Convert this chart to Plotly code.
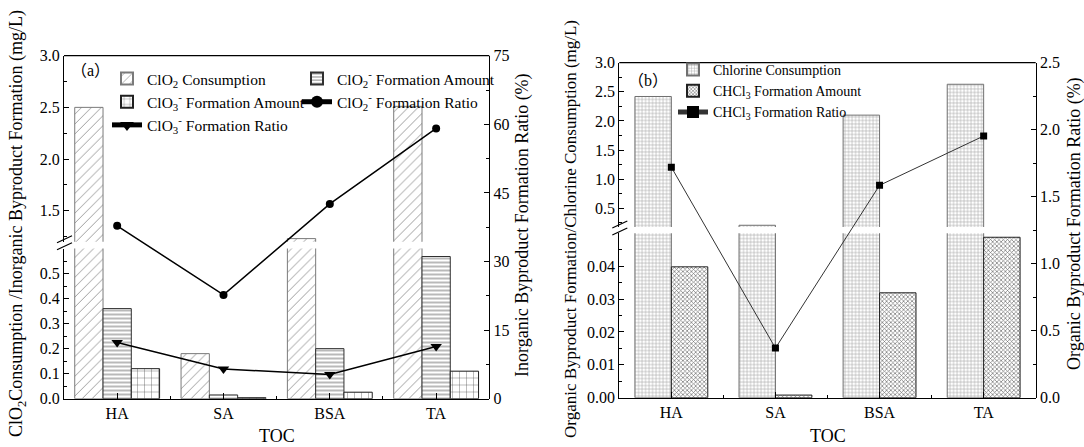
import plotly.graph_objects as go

# ---------------- data ----------------
cats = ["HA", "SA", "BSA", "TA"]

# panel (a)  (mg/L on left, % on right)
clo2_consumption = [2.50, 0.18, 1.23, 2.51]
clo2m_amount = [0.36, 0.015, 0.20, 0.568]
clo3m_amount = [0.12, 0.004, 0.026, 0.11]
clo2m_ratio = [37.8, 22.7, 42.6, 59.1]
clo3m_ratio = [12.3, 6.5, 5.3, 11.4]

# panel (b)
chlorine_consumption = [2.42, 0.21, 2.10, 2.63]
chcl3_amount = [0.0398, 0.0008, 0.0319, 0.0488]
chcl3_ratio = [1.72, 0.37, 1.585, 1.953]

# tick labels
a_low_ticks = [0.0, 0.1, 0.2, 0.3, 0.4, 0.5]
a_up_ticks = [1.5, 2.0, 2.5, 3.0]
a_right_ticks = [0, 15, 30, 45, 60, 75]
b_low_ticks = [0.00, 0.01, 0.02, 0.03, 0.04]
b_up_ticks = [0.5, 1.0, 1.5, 2.0, 2.5, 3.0]
b_right_ticks = [0.0, 0.5, 1.0, 1.5, 2.0, 2.5]

# ---------------- layout helpers ----------------
W, H = 1084, 447
FONT = "Liberation Serif"


def px(x):
    return x / W


def py(y):
    return 1 - y / H


xi = list(range(len(cats)))

fig = go.Figure()

# ---------- panel (a) bars ----------
bar_w_a = 0.266
a_bars = [
    ("ClO<sub>2</sub> Consumption", clo2_consumption,
     dict(shape="/", fgcolor="#8c8c8c", bgcolor="white", size=7, solidity=0.12),
     "#7a7a7a", -1.5 * bar_w_a, "legend"),
    ("ClO<sub>2</sub><sup>-</sup> Formation Amount", clo2m_amount,
     dict(shape="-", fgcolor="#8a8a8a", bgcolor="white", size=4, solidity=0.3),
     "#303030", -0.5 * bar_w_a, "legend3"),
    ("ClO<sub>3</sub><sup>-</sup> Formation Amount", clo3m_amount,
     dict(shape="+", fgcolor="#404040", bgcolor="white", size=7, solidity=0.1),
     "#202020", 0.5 * bar_w_a, "legend"),
]
for yax, show in (("y", True), ("y2", False)):
    for name, vals, pat, lc, off, lg in a_bars:
        fig.add_trace(go.Bar(
            x=xi, y=vals, name=name, xaxis="x", yaxis=yax,
            width=bar_w_a, offset=off,
            marker=dict(color="white", pattern=dict(fillmode="replace", **pat),
                        line=dict(color=lc, width=1)),
            showlegend=show, legend=lg, hoverinfo="skip"))

fig.add_trace(go.Scatter(
    x=xi, y=clo2m_ratio, name="ClO<sub>2</sub><sup>-</sup> Formation Ratio",
    xaxis="x", yaxis="y3", mode="lines+markers", legend="legend3",
    line=dict(color="black", width=1.5),
    marker=dict(symbol="circle", size=8, color="black")))
fig.add_trace(go.Scatter(
    x=xi, y=clo3m_ratio, name="ClO<sub>3</sub><sup>-</sup> Formation Ratio",
    xaxis="x", yaxis="y3", mode="lines+markers", legend="legend",
    line=dict(color="black", width=1.5),
    marker=dict(symbol="triangle-down", size=10, color="black")))

# ---------- panel (b) bars ----------
bar_w_b = 0.35
b_bars = [
    ("Chlorine Consumption", chlorine_consumption,
     dict(shape="+", fgcolor="#a8a8a8", bgcolor="white", size=3.5, solidity=0.3),
     "#707070", -bar_w_b),
    ("CHCl<sub>3</sub> Formation Amount", chcl3_amount,
     dict(shape="x", fgcolor="#707070", bgcolor="white", size=3, solidity=0.4),
     "#202020", 0.0),
]
for yax, show in (("y4", True), ("y5", False)):
    for name, vals, pat, lc, off in b_bars:
        fig.add_trace(go.Bar(
            x=xi, y=vals, name=name, xaxis="x2", yaxis=yax,
            width=bar_w_b, offset=off,
            marker=dict(color="white", pattern=dict(fillmode="replace", **pat),
                        line=dict(color=lc, width=1)),
            showlegend=show, legend="legend2", hoverinfo="skip"))

fig.add_trace(go.Scatter(
    x=xi, y=chcl3_ratio, name="CHCl<sub>3</sub> Formation Ratio",
    xaxis="x2", yaxis="y6", mode="lines+markers", legend="legend2",
    line=dict(color="#333333", width=1),
    marker=dict(symbol="square", size=7, color="black")))

# ---------- axes ----------
tickfont = dict(family=FONT, size=16, color="black")
common_y = dict(showgrid=False, zeroline=False, showline=True, linecolor="black",
                linewidth=1.2, ticks="inside", ticklen=5, tickcolor="black",
                tickfont=tickfont, automargin=False)
common_x = dict(showgrid=False, zeroline=False, showline=True, linecolor="black",
                linewidth=1.2, ticks="inside", ticklen=6, tickcolor="black",
                tickfont=tickfont, automargin=False, range=[-0.5, 3.5],
                tickmode="array", tickvals=xi, ticktext=cats,
                minor=dict(ticks="inside", ticklen=3, tickcolor="black",
                           tickmode="linear", tick0=0.5, dtick=1))

# panel (a) pixel geometry
A_L, A_R = 64, 489.3
A_TOP, A_UPB, A_LOWT, A_BOT = 55.7, 241.7, 248.5, 398.7
# panel (b) pixel geometry
B_L, B_R = 619.3, 1035.7
B_TOP, B_UPB, B_LOWT, B_BOT = 62.7, 227.0, 233.3, 397.7

fig.update_layout(
    xaxis=dict(domain=[px(A_L), px(A_R)], anchor="y", **common_x),
    yaxis=dict(domain=[py(A_BOT), py(A_LOWT)], anchor="x", range=[0, 0.6],
               tickmode="array", tickvals=a_low_ticks, tickformat=".1f",
               minor=dict(ticks="inside", ticklen=3, tickcolor="black",
                          tickmode="linear", tick0=0.05, dtick=0.1),
               **common_y),
    yaxis2=dict(domain=[py(A_UPB), py(A_TOP)], anchor="x", range=[1.2, 3.0],
                tickmode="array", tickvals=a_up_ticks, tickformat=".1f",
                minor=dict(ticks="inside", ticklen=3, tickcolor="black",
                           tickmode="linear", tick0=0.25, dtick=0.5),
                **common_y),
    yaxis3=dict(domain=[py(A_BOT), py(A_TOP)], anchor="x", side="right",
                range=[0, 75], tickmode="array", tickvals=a_right_ticks,
                minor=dict(ticks="inside", ticklen=3, tickcolor="black",
                           tickmode="linear", tick0=7.5, dtick=15),
                **common_y),
    xaxis2=dict(domain=[px(B_L), px(B_R)], anchor="y4", **common_x),
    yaxis4=dict(domain=[py(B_BOT), py(B_LOWT)], anchor="x2", range=[0, 0.05],
                tickmode="array", tickvals=b_low_ticks, tickformat=".2f",
                minor=dict(ticks="inside", ticklen=3, tickcolor="black",
                           tickmode="linear", tick0=0.005, dtick=0.01),
                **common_y),
    yaxis5=dict(domain=[py(B_UPB), py(B_TOP)], anchor="x2", range=[0.18, 3.0],
                tickmode="array", tickvals=b_up_ticks, tickformat=".1f",
                minor=dict(ticks="inside", ticklen=3, tickcolor="black",
                           tickmode="linear", tick0=0.25, dtick=0.5),
                **common_y),
    yaxis6=dict(domain=[py(B_BOT), py(B_TOP)], anchor="x2", side="right",
                range=[0, 2.5], tickmode="array", tickvals=b_right_ticks,
                tickformat=".1f",
                minor=dict(ticks="inside", ticklen=3, tickcolor="black",
                           tickmode="linear", tick0=0.25, dtick=0.5),
                **common_y),
)

# ---------- frame lines & axis breaks ----------
shapes = []
for xr, yr in (("x domain", "y2 domain"), ("x2 domain", "y5 domain")):
    shapes.append(dict(type="line", xref=xr, yref=yr, x0=0, x1=1, y0=1, y1=1,
                       line=dict(color="black", width=1.2)))
    for y0, y1 in ((-1, 6), (-8, -1)):
        shapes.append(dict(type="line", xref=xr, yref=yr,
                           xsizemode="pixel", xanchor=0, x0=-7, x1=8,
                           ysizemode="pixel", yanchor=0,
                           y0=y0, y1=y1, line=dict(color="black", width=1.2)))

# ---------- annotations (titles, panel labels) ----------
tfont = dict(family=FONT, size=18, color="black")
ann = [
    dict(text="ClO<sub>2</sub>Consumption /Inorganic Byproduct Formation (mg/L)",
         x=px(17), y=py(224), textangle=-90),
    dict(text="Inorganic Byproduct Formation Ratio (%)",
         x=px(522), y=py(225), textangle=-90),
    dict(text="Organic Byproduct Formation/Chlorine Consumption (mg/L)",
         x=px(571), y=py(229), textangle=-90,
         font=dict(family=FONT, size=17, color="black")),
    dict(text="Organic Byproduct Formation Ratio (%)",
         x=px(1074), y=py(224), textangle=-90),
    dict(text="TOC", x=px(277), y=py(436)),
    dict(text="TOC", x=px(828), y=py(436)),
    dict(text="（a）", x=px(90), y=py(70),
         font=dict(family=FONT + ", Noto Sans CJK SC", size=16, color="black")),
    dict(text="（b）", x=px(648), y=py(80),
         font=dict(family=FONT + ", Noto Sans CJK SC", size=16, color="black")),
]
annotations = []
for a in ann:
    d = dict(xref="paper", yref="paper", showarrow=False, font=tfont,
             xanchor="center", yanchor="middle")
    d.update(a)
    annotations.append(d)

leg_common = dict(bgcolor="rgba(0,0,0,0)", borderwidth=0,
                  orientation="v", xanchor="left", yanchor="top",
                  tracegroupgap=0, itemsizing="constant")
legfont_a = dict(family=FONT, size=15.5, color="black")
legfont_b = dict(family=FONT, size=14, color="black")

fig.update_layout(
    width=W, height=H,
    margin=dict(l=0, r=0, t=0, b=0),
    paper_bgcolor="white", plot_bgcolor="rgba(0,0,0,0)",
    font=dict(family=FONT, color="black"),
    barmode="overlay",
    shapes=shapes,
    annotations=annotations,
    legend=dict(x=px(107), y=py(62), font=legfont_a, **leg_common),
    legend3=dict(x=px(297), y=py(62), font=legfont_a, **leg_common),
    legend2=dict(x=px(673), y=py(54), font=legfont_b, **leg_common),
    hovermode=False,
)

fig.write_html(
    "out.html",
    config={"displayModeBar": False},
    post_script="document.body.style.margin='0';document.body.style.overflow='hidden';",
)
